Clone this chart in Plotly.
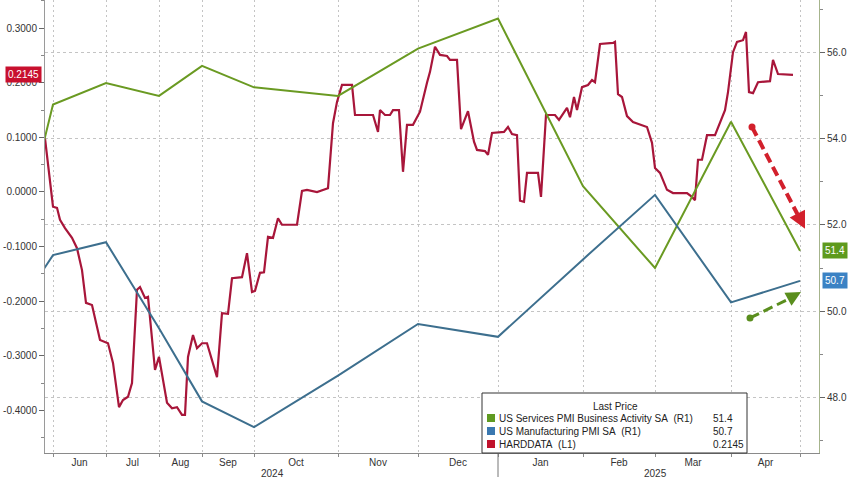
import plotly.graph_objects as go

# ---------------- data ----------------
# x positions are along the chart's session axis (Bloomberg-style, non-calendar)
month_labels = ["Jun", "Jul", "Aug", "Sep", "Oct", "Nov", "Dec", "Jan", "Feb", "Mar", "Apr"]
# session position of each month end (Apr-2024 ... Apr-2025)
month_end_pos = [-29, 8, 61, 114, 157, 209, 293, 373, 453, 538, 610, 686, 755]

services_pmi = [51.3, 54.8, 55.3, 55.0, 55.7, 55.2, 55.0, 56.1, 56.8, 52.9, 51.0, 54.4, 51.4]
mfg_pmi = [50.0, 51.3, 51.6, 49.6, 47.9, 47.3, 48.5, 49.7, 49.4, 51.2, 52.7, 50.2, 50.7]

hard_pos = [0, 5, 8, 12, 15, 20, 27, 32, 37, 41, 47, 55, 63, 68, 74, 78, 83, 87, 92, 95,
            100, 103, 110, 114, 122, 127, 132, 137, 140, 143, 148, 152, 157, 162, 167, 172,
            177, 183, 187, 197, 202, 207, 210, 215, 219, 223, 228, 233, 237, 252, 257, 262,
            272, 283, 288, 292, 297, 307, 310, 328, 333, 335, 340, 345, 348, 354, 358, 362,
            368, 375, 382, 385, 390, 395, 402, 405, 412, 416, 423, 429, 432, 440, 443, 447,
            459, 463, 467, 472, 475, 479, 482, 493, 496, 501, 510, 514, 522, 525, 529, 532,
            537, 543, 547, 550, 555, 568, 570, 573, 577, 582, 588, 597, 602, 607, 610, 615,
            622, 628, 642, 647, 650, 653, 657, 662, 670, 680, 683, 688, 692, 698, 701, 704,
            708, 713, 725, 728, 733, 748]
hard_vals = [0.098, 0.022, -0.027, -0.029, -0.051, -0.066, -0.084, -0.103, -0.143, -0.203,
             -0.207, -0.271, -0.277, -0.313, -0.394, -0.381, -0.375, -0.350, -0.179, -0.174,
             -0.194, -0.192, -0.326, -0.302, -0.386, -0.396, -0.394, -0.408, -0.408, -0.302,
             -0.262, -0.286, -0.277, -0.277, -0.308, -0.339, -0.222, -0.223, -0.158, -0.156,
             -0.112, -0.183, -0.181, -0.148, -0.147, -0.082, -0.084, -0.048, -0.060, -0.060,
             0.002, 0.004, 0.000, 0.007, 0.126, 0.165, 0.196, 0.196, 0.141, 0.141,
             0.110, 0.150, 0.141, 0.141, 0.150, 0.150, 0.037, 0.123, 0.123, 0.147,
             0.200, 0.220, 0.266, 0.251, 0.249, 0.242, 0.242, 0.115, 0.148, 0.092,
             0.077, 0.075, 0.068, 0.108, 0.110, 0.119, 0.106, 0.104, -0.016, -0.018,
             0.035, 0.035, -0.009, 0.141, 0.141, 0.132, 0.154, 0.137, 0.174, 0.150,
             0.192, 0.196, 0.205, 0.201, 0.271, 0.273, 0.275, 0.179, 0.174, 0.139,
             0.128, 0.123, 0.119, 0.090, 0.044, 0.035, 0.004, -0.002, -0.002, -0.009,
             -0.015, 0.059, 0.059, 0.104, 0.104, 0.150, 0.183, 0.256, 0.275, 0.278,
             0.293, 0.183, 0.181, 0.201, 0.203, 0.242, 0.216, 0.2145]

left_ticks = [-0.4, -0.3, -0.2, -0.1, 0.0, 0.1, 0.2, 0.3]
left_minor = [-0.45, -0.35, -0.25, -0.15, -0.05, 0.05, 0.15, 0.25, 0.35]
right_ticks = [48, 50, 52, 54, 56]
right_minor = [47, 49, 51, 53, 55, 57]

names = ["US Services PMI Business Activity SA\u00a0\u00a0(R1)",
         "US Manufacturing PMI SA\u00a0\u00a0(R1)",
         "HARDDATA\u00a0\u00a0(L1)"]

# ---------------- style ----------------
GREEN = "#6a9a22"
BLUE = "#3d6f8e"
RED = "#a8163a"
FONT = "Liberation Sans, Arial, sans-serif"
W, H = 848, 479
ML, MR, MT, MB = 45, 29, 0, 26
PW, PH = W - ML - MR, H - MT - MB


def px_x(px):
    return (px - ML) / PW


def py_y(py):
    return (MT + PH - py) / PH


fig = go.Figure()
fig.add_trace(go.Scatter(x=month_end_pos, y=services_pmi, yaxis="y2", mode="lines",
                         line=dict(color=GREEN, width=2), name=names[0]))
fig.add_trace(go.Scatter(x=month_end_pos, y=mfg_pmi, yaxis="y2", mode="lines",
                         line=dict(color=BLUE, width=2), name=names[1]))
fig.add_trace(go.Scatter(x=hard_pos, y=hard_vals, yaxis="y", mode="lines",
                         line=dict(color=RED, width=2.2), name=names[2]))

month_mid = [(month_end_pos[i] + month_end_pos[i + 1]) / 2 for i in range(1, len(month_end_pos) - 1)]

fig.update_layout(
    width=W, height=H,
    margin=dict(l=ML, r=MR, t=MT, b=MB, pad=0),
    paper_bgcolor="white", plot_bgcolor="white",
    showlegend=False,
    font=dict(family=FONT, size=10, color="#333"),
    xaxis=dict(range=[0, PW], tickmode="array", tickvals=month_mid, ticktext=month_labels,
               ticks="", showgrid=False, zeroline=False, showline=True, linecolor="#8a8a8a",
               automargin=False, tickfont=dict(size=10, color="#333"),
               minor=dict(tickmode="array", tickvals=month_end_pos, showgrid=True,
                          gridcolor="#c4c4c4", griddash="2px,3px", gridwidth=1,
                          ticks="outside", ticklen=3, tickcolor="#8a8a8a")),
    yaxis=dict(range=[-0.478, 0.3516], side="left", tickmode="array", tickvals=left_ticks,
               ticktext=[f"{v:.4f}" for v in left_ticks], ticks="outside", ticklen=5,
               tickcolor="#666", showline=True, linecolor="#9a9a9a", showgrid=False,
               zeroline=False, automargin=False, tickfont=dict(size=10, color="#333"),
               minor=dict(tickmode="array", tickvals=left_minor, ticks="outside", ticklen=3,
                          tickcolor="#888", showgrid=False)),
    yaxis2=dict(range=[46.70, 57.23], overlaying="y", side="right", tickmode="array",
                tickvals=right_ticks, ticktext=[f"{v:.1f}" for v in right_ticks],
                ticks="outside", ticklen=5, tickcolor="#666", showline=True,
                linecolor="#a6b48c", showgrid=True, gridcolor="#c4c4c4", griddash="3px,3px",
                zeroline=False, automargin=False, tickfont=dict(size=10, color="#333"),
                minor=dict(tickmode="array", tickvals=right_minor, ticks="outside", ticklen=3,
                           tickcolor="#888", showgrid=False)),
)

shapes = []
annotations = []

# year separator and year labels
shapes.append(dict(type="line", xref="x", yref="paper", x0=month_end_pos[8], x1=month_end_pos[8],
                   y0=0, y1=-0.053, line=dict(color="#777", width=1)))
for yr, xpos in (("2024", 227), ("2025", 610)):
    annotations.append(dict(xref="x", yref="paper", x=xpos, y=py_y(473), xanchor="center",
                            yanchor="middle", text=yr, showarrow=False,
                            font=dict(size=10, color="#333")))

# last value boxes
annotations.append(dict(xref="paper", yref="y", x=0, xanchor="right", xshift=-3, y=hard_vals[-1],
                        yanchor="middle", text=f"{hard_vals[-1]:.4f}", showarrow=False,
                        bgcolor="#c8102e", borderpad=2, font=dict(size=10, color="white")))
annotations.append(dict(xref="paper", yref="y2", x=1, xanchor="left", xshift=3, y=services_pmi[-1],
                        yanchor="middle", text=f"{services_pmi[-1]:.1f}", showarrow=False,
                        bgcolor="#5e9a1d", borderpad=2, font=dict(size=10, color="white")))
annotations.append(dict(xref="paper", yref="y2", x=1, xanchor="left", xshift=3, y=mfg_pmi[-1],
                        yanchor="middle", text=f"{mfg_pmi[-1]:.1f}", showarrow=False,
                        bgcolor="#3b82c4", borderpad=2, font=dict(size=10, color="white")))

# dashed trend arrows (x on session axis, y on right axis)
arrows = [
    dict(color="#d2202c", width=4, start=(707, 54.28), base=(752.5, 52.25), tip=(760, 51.91),
         ax=-6, ay=-12, size=0.95),
    dict(color="#5a8e1e", width=3, start=(705, 49.84), base=(745.5, 50.30), tip=(756, 50.44),
         ax=-11, ay=6, size=1.1),
]
for a in arrows:
    shapes.append(dict(type="line", xref="x", yref="y2", x0=a["start"][0], y0=a["start"][1],
                       x1=a["base"][0], y1=a["base"][1],
                       line=dict(color=a["color"], width=a["width"], dash="10px,5px")))
    shapes.append(dict(type="circle", xref="x", yref="y2", xsizemode="pixel", ysizemode="pixel",
                       xanchor=a["start"][0], yanchor=a["start"][1], x0=-3.5, x1=3.5, y0=-3.5,
                       y1=3.5, fillcolor=a["color"], line=dict(width=0)))
    annotations.append(dict(xref="x", yref="y2", x=a["tip"][0], y=a["tip"][1], ax=a["ax"],
                            ay=a["ay"], text="", showarrow=True, arrowhead=2, arrowsize=a["size"],
                            arrowwidth=a["width"] * 0.9, arrowcolor=a["color"]))

# legend box
shapes.append(dict(type="rect", xref="paper", yref="paper", x0=px_x(482), x1=px_x(747),
                   y0=py_y(453), y1=py_y(393), fillcolor="white",
                   line=dict(color="#333", width=1), layer="above"))
annotations.append(dict(xref="paper", yref="paper", x=px_x(615), y=py_y(406), xanchor="center",
                        yanchor="middle", text="Last Price", showarrow=False,
                        font=dict(size=10, color="#222")))
rows_py = [418, 431, 444]
sq_colors = ["#5f9a22", "#3a78b0", "#c0122c"]
values_txt = [f"{services_pmi[-1]:.1f}", f"{mfg_pmi[-1]:.1f}", f"{hard_vals[-1]:.4f}"]
for name, col, val, py in zip(names, sq_colors, values_txt, rows_py):
    shapes.append(dict(type="rect", xref="paper", yref="paper", x0=px_x(487), x1=px_x(495),
                       y0=py_y(py + 4), y1=py_y(py - 4), fillcolor=col, line=dict(width=0),
                       layer="above"))
    annotations.append(dict(xref="paper", yref="paper", x=px_x(497), y=py_y(py), xanchor="left",
                            yanchor="middle", text=name, showarrow=False,
                            font=dict(size=10, color="#222")))
    annotations.append(dict(xref="paper", yref="paper", x=px_x(711), y=py_y(py), xanchor="left",
                            yanchor="middle", text=val, showarrow=False,
                            font=dict(size=10, color="#222")))

fig.update_layout(shapes=shapes, annotations=annotations)
fig.write_html("out.html", config={"displayModeBar": False},
               post_script="document.body.style.margin='0';document.body.style.overflow='hidden';")
